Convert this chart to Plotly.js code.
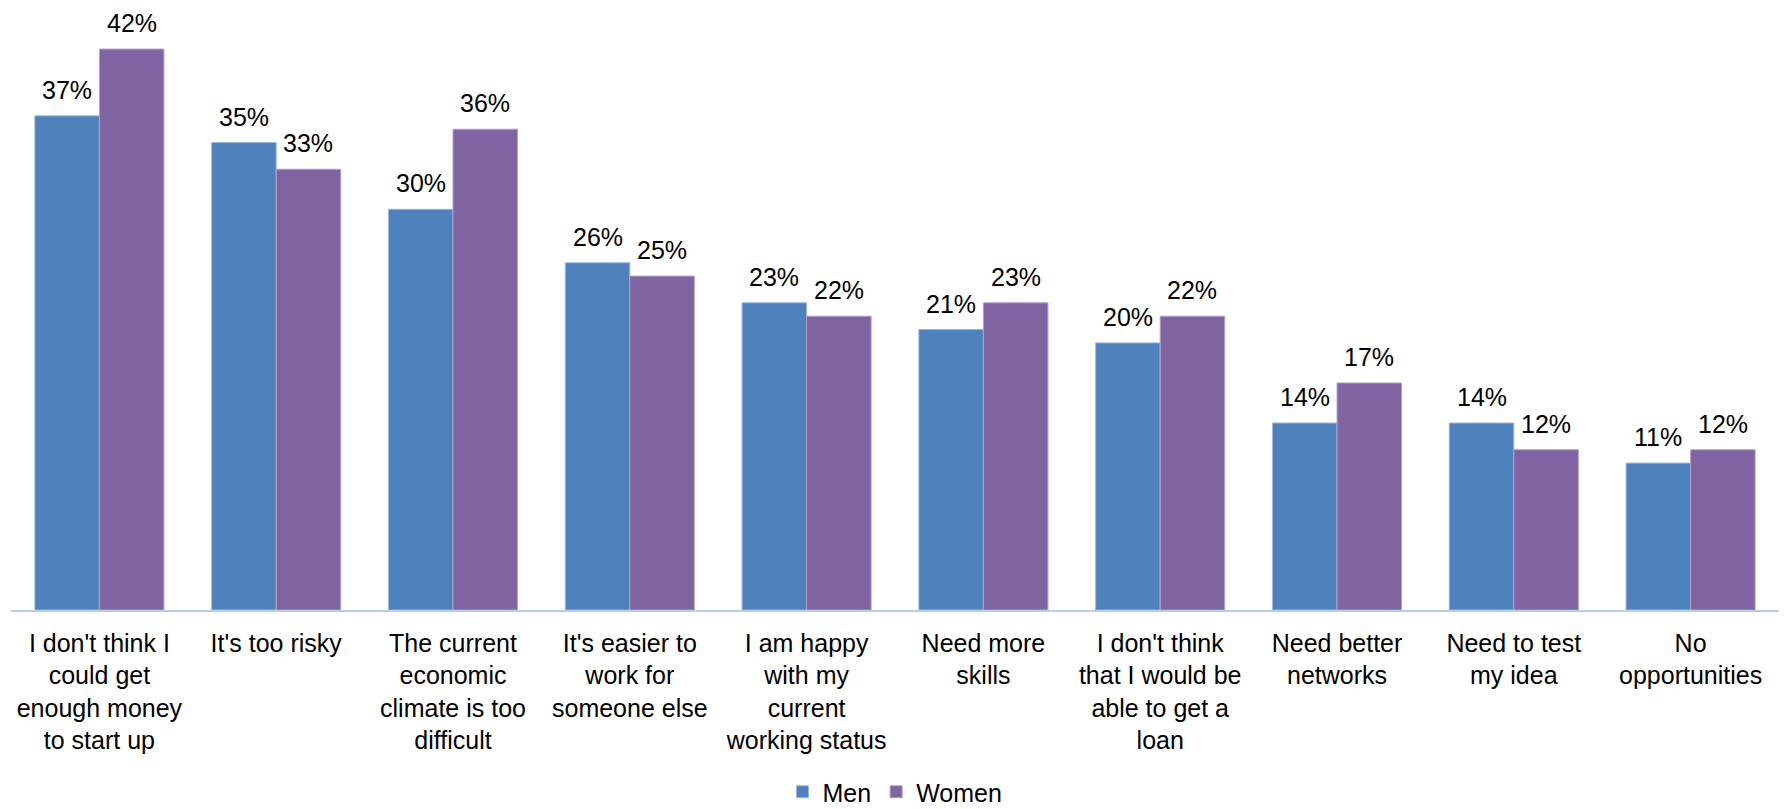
<!DOCTYPE html>
<html>
<head>
<meta charset="utf-8">
<script src="https://cdn.plot.ly/plotly-3.0.1.min.js"></script>
<style>html,body{margin:0;padding:0;background:#fff;}#chart{width:1785px;height:809px;}</style>
</head>
<body>
<div id="chart"></div>
<script>
const categories = [
  "I don't think I<br>could get<br>enough money<br>to start up",
  "It's too risky",
  "The current<br>economic<br>climate is too<br>difficult",
  "It's easier to<br>work for<br>someone else",
  "I am happy<br>with my<br>current<br>working status",
  "Need more<br>skills",
  "I don't think<br>that I would be<br>able to get a<br>loan",
  "Need better<br>networks",
  "Need to test<br>my idea",
  "No<br>opportunities"
];
const men = [37, 35, 30, 26, 23, 21, 20, 14, 14, 11];
const women = [42, 33, 36, 25, 22, 23, 22, 17, 12, 12];
const seriesNames = ["Men", "Women"];
const seriesColors = ["#4F81BD", "#8064A2"];

const font = {family: "Liberation Sans, Arial, sans-serif", size: 25, color: "#000"};

const W = 1785, H = 809;
const margin = {l: 11, r: 6, t: 9, b: 199};
const bargap = 0.27;
const catWidth = (W - margin.l - margin.r) / categories.length;
const barWidth = catWidth * (1 - bargap) / 2;

const traces = [men, women].map((vals, i) => ({
  type: "bar", name: seriesNames[i], x: categories, y: vals,
  marker: {color: seriesColors[i], line: {color: i === 0 ? "#9DB7DA" : "#B3A2C7", width: 1}},
  hoverinfo: "skip"
}));

const annotations = [];
[men, women].forEach((vals, i) => {
  vals.forEach((v, j) => {
    annotations.push({
      x: categories[j], y: v, xref: "x", yref: "y",
      text: v + "%", showarrow: false, font: font,
      xanchor: "center", yanchor: "bottom",
      xshift: (i === 0 ? -1 : 1) * barWidth / 2, yshift: 10
    });
  });
});

const layout = {
  width: W, height: H,
  margin: margin,
  paper_bgcolor: "#fff", plot_bgcolor: "#fff",
  font: font,
  barmode: "group",
  bargap: bargap,
  bargroupgap: 0,
  showlegend: true,
  legend: {orientation: "h", x: 0.5, xanchor: "center", xref: "paper", yref: "container", y: 0.021, yanchor: "middle", font: font, tracegroupgap: 0},
  xaxis: {showline: true, linecolor: "#B9CDE5", linewidth: 1.5, ticks: "", tickfont: font, showgrid: false, zeroline: false, automargin: false, tickangle: 0, ticklabelstandoff: 10},
  yaxis: {range: [0, 45], visible: false, showgrid: false, zeroline: false, fixedrange: true},
  annotations: annotations
};

Plotly.newPlot("chart", traces, layout, {displayModeBar: false, staticPlot: true});
</script>
</body>
</html>
